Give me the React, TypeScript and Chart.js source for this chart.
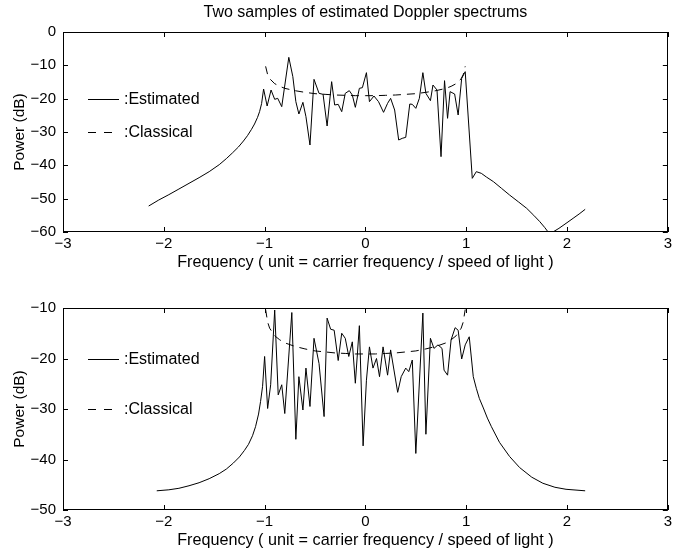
import React, { useEffect, useRef } from "react";
import { Chart, registerables } from "chart.js";

Chart.register(...registerables);

const FONT = "'Liberation Sans', Arial, Helvetica, sans-serif";

const titleText = "Two samples of estimated Doppler spectrums";
const xTitle = "Frequency ( unit = carrier frequency / speed of light )";
const yTitle = "Power (dB)";
const legendLabels = [":Estimated", ":Classical"];

// Top panel: estimated spectrum (frequency, dB)
const topEstF = [
  -2.15, -2.05, -1.95, -1.85, -1.75, -1.65, -1.55, -1.45, -1.38, -1.32, -1.26, -1.21,
  -1.17, -1.13, -1.1, -1.07, -1.05, -1.03, -1.01,
  -0.975, -0.936, -0.9, -0.87, -0.83, -0.76, -0.72, -0.69, -0.66, -0.62, -0.59,
  -0.55, -0.51, -0.46, -0.42, -0.38, -0.335, -0.305, -0.27, -0.235, -0.2, -0.16,
  -0.13, -0.1, -0.06, -0.03, 0.01, 0.04, 0.085, 0.13, 0.18, 0.22, 0.25, 0.29,
  0.33, 0.365, 0.4, 0.44, 0.465, 0.5, 0.535, 0.57, 0.6, 0.645, 0.67, 0.71, 0.75,
  0.785, 0.815, 0.84, 0.885, 0.92, 0.955, 0.99, 1.06, 1.1, 1.15, 1.2, 1.27, 1.35,
  1.43, 1.52, 1.6, 1.67, 1.73, 1.78, 1.81, 1.86, 1.92, 2.0, 2.06, 2.12, 2.18,
];
const topEstDb = [
  -52.2, -50.4, -48.8, -47.1, -45.4, -43.7, -41.9, -39.8, -38.0, -36.3, -34.5, -32.7,
  -31.1, -29.2, -27.6, -25.6, -23.9, -21.5, -17.1,
  -22.2, -17.4, -20.2, -19.9, -22.4, -7.6, -13.4, -20.9, -24.6, -21.1, -25.4,
  -33.9, -14.2, -18.4, -18.7, -28.2, -14.9, -21.9, -21.7, -23.9, -18.4, -17.6,
  -18.9, -22.6, -16.9, -16.7, -12.2, -20.9, -19.2, -20.9, -24.1, -21.4, -19.9, -23.4,
  -32.4, -31.9, -31.6, -21.6, -21.7, -22.9, -19.9, -12.2, -18.4, -20.6, -15.9, -17.4, -37.4,
  -14.6, -25.9, -17.9, -18.6, -24.9, -13.9, -11.9, -43.9, -41.9, -42.4, -43.5, -44.9, -46.9,
  -48.9, -51.0, -52.9, -55.0, -56.9, -58.7, -59.9, -60.0, -58.9, -57.2, -55.9, -54.6, -53.2,
];

// Bottom panel: estimated spectrum (frequency, dB)
const botEstF = [
  -2.07, -1.95, -1.85, -1.75, -1.65, -1.55, -1.45, -1.38, -1.31, -1.25, -1.2, -1.16,
  -1.12, -1.09, -1.06, -1.04, -1.02, -1.0,
  -0.97, -0.94, -0.9, -0.865, -0.83, -0.8, -0.73, -0.69, -0.66, -0.62, -0.59,
  -0.55, -0.51, -0.46, -0.41, -0.38, -0.345, -0.31, -0.27, -0.235, -0.2, -0.165,
  -0.13, -0.1, -0.06, -0.023, 0.01, 0.04, 0.075, 0.11, 0.14, 0.175, 0.22, 0.25,
  0.32, 0.355, 0.4, 0.43, 0.465, 0.5, 0.57, 0.6, 0.645, 0.68, 0.72, 0.76, 0.78,
  0.815, 0.85, 0.89, 0.92, 0.955, 0.99, 1.03, 1.07, 1.1, 1.13, 1.17, 1.21, 1.25,
  1.33, 1.43, 1.53, 1.65, 1.76, 1.88, 1.99, 2.18,
];
const botEstDb = [
  -46.2, -46.0, -45.7, -45.2, -44.6, -43.8, -42.8, -41.9, -40.7, -39.5, -38.2, -37.0,
  -35.3, -33.5, -31.0, -28.5, -25.5, -19.6,
  -29.9, -25.2, -10.4, -27.2, -25.2, -30.9, -10.9, -36.0, -23.6, -30.2, -21.9,
  -29.5, -16.0, -21.0, -31.5, -12.0, -14.2, -14.4, -20.4, -15.0, -16.0, -19.6,
  -16.7, -24.9, -13.5, -37.3, -24.3, -17.7, -21.9, -20.0, -23.6, -17.7, -23.3, -18.3,
  -26.7, -23.6, -21.9, -22.6, -20.3, -38.8, -11.0, -35.0, -16.0, -18.0, -17.3, -18.0, -22.3,
  -23.3, -16.3, -13.9, -14.4, -20.1, -17.3, -15.7, -23.6, -25.9, -27.9, -29.8, -31.8, -33.5,
  -36.6, -39.4, -41.6, -43.5, -44.7, -45.5, -45.9, -46.2,
];

// Classical (Jakes) spectrum
const classF = [
  -0.99, -0.97, -0.95, -0.9, -0.85, -0.8, -0.7, -0.6, -0.5, -0.4, -0.3, -0.2, -0.1, 0,
  0.1, 0.2, 0.3, 0.4, 0.5, 0.6, 0.7, 0.8, 0.85, 0.9, 0.95, 0.97, 0.99,
];
const classDb = [
  -10.3, -12.8, -14.0, -15.5, -16.3, -16.9, -17.6, -18.1, -18.5, -18.7, -18.9, -19.0, -19.1, -19.1,
  -19.1, -19.0, -18.9, -18.7, -18.5, -18.1, -17.6, -16.9, -16.3, -15.5, -14.0, -12.8, -10.3,
];

const xTicks = [-3, -2, -1, 0, 1, 2, 3];
const topYRange = [-60, 0];
const botYRange = [-50, -10];

const zip = (xs: number[], ys: number[]) => xs.map((x, i) => ({ x, y: ys[i] }));
const fmt = (v: number) => (v < 0 ? "\u2212" + Math.abs(v) : String(v));

const framePlugin = {
  id: "frame",
  afterDatasetsDraw(chart: any) {
    const { ctx, chartArea: a, scales } = chart;
    const x = scales.x;
    const y = scales.y;
    ctx.save();
    ctx.strokeStyle = "#000";
    ctx.lineWidth = 1;
    ctx.setLineDash([]);
    ctx.strokeRect(Math.round(a.left) + 0.5, Math.round(a.top) + 0.5, Math.round(a.right - a.left) - 1, Math.round(a.bottom - a.top) - 1);
    const L = 5;
    ctx.beginPath();
    x.ticks.forEach((t: any) => {
      const px = Math.round(x.getPixelForValue(t.value)) + 0.5;
      ctx.moveTo(px, a.bottom);
      ctx.lineTo(px, a.bottom - L);
      ctx.moveTo(px, a.top);
      ctx.lineTo(px, a.top + L);
    });
    y.ticks.forEach((t: any) => {
      const py = Math.round(y.getPixelForValue(t.value)) + 0.5;
      ctx.moveTo(a.left, py);
      ctx.lineTo(a.left + L, py);
      ctx.moveTo(a.right, py);
      ctx.lineTo(a.right - L, py);
    });
    ctx.stroke();

    // legend text objects
    const y1 = Math.round(y.getPixelForValue(-20)) + 0.5;
    const y2 = Math.round(y.getPixelForValue(-30)) + 0.5;
    const lx0 = a.left + 25;
    ctx.beginPath();
    ctx.moveTo(lx0, y1);
    ctx.lineTo(lx0 + 31, y1);
    ctx.stroke();
    ctx.setLineDash([8, 8]);
    ctx.beginPath();
    ctx.moveTo(lx0, y2);
    ctx.lineTo(lx0 + 24, y2);
    ctx.stroke();
    ctx.setLineDash([]);
    ctx.fillStyle = "#000";
    ctx.font = `16px ${FONT}`;
    ctx.textAlign = "left";
    ctx.textBaseline = "middle";
    ctx.fillText(legendLabels[0], a.left + 61, y1);
    ctx.fillText(legendLabels[1], a.left + 61, y2);
    ctx.restore();
  },
};

function makeConfig(est: any[], yr: number[], withTitle: boolean, padTop: number, xH: number, xPadB: number) {
  return {
    type: "line",
    data: {
      datasets: [
        {
          data: est,
          borderColor: "#000",
          borderWidth: 1,
          pointRadius: 0,
          tension: 0,
          fill: false,
        },
        {
          data: zip(classF, classDb),
          borderColor: "#000",
          borderWidth: 1,
          borderDash: [8, 6],
          pointRadius: 0,
          tension: 0,
          fill: false,
        },
      ],
    },
    options: {
      responsive: false,
      animation: false,
      layout: { padding: { left: 0, right: 4, top: padTop, bottom: 0 } },
      plugins: {
        legend: { display: false },
        tooltip: { enabled: false },
        title: {
          display: withTitle,
          text: titleText,
          color: "#000",
          fullSize: false,
          font: { size: 16, family: FONT, weight: "normal" },
          padding: { top: 3, bottom: 9.8 },
        },
      },
      scales: {
        x: {
          type: "linear",
          min: -3,
          max: 3,
          afterBuildTicks: (s: any) => {
            s.ticks = xTicks.map((v) => ({ value: v }));
          },
          afterFit: (s: any) => {
            s.height = xH;
          },
          ticks: {
            color: "#000",
            font: { size: 15, family: FONT },
            padding: 3,
            maxRotation: 0,
            autoSkip: false,
            callback: (v: any) => fmt(Number(v)),
          },
          grid: { display: false, drawTicks: false },
          border: { display: false },
          title: {
            display: true,
            text: xTitle,
            color: "#000",
            font: { size: 16.2, family: FONT },
            padding: { top: 0, bottom: xPadB },
          },
        },
        y: {
          type: "linear",
          min: yr[0],
          max: yr[1],
          ticks: {
            stepSize: 10,
            color: "#000",
            font: { size: 15, family: FONT },
            padding: 7,
            callback: (v: any) => fmt(Number(v)),
          },
          afterFit: (s: any) => {
            s.width = 63;
          },
          grid: { display: false, drawTicks: false },
          border: { display: false },
          title: {
            display: true,
            text: yTitle,
            color: "#000",
            font: { size: 15.5, family: FONT },
            padding: { top: 10.7, bottom: 0 },
          },
        },
      },
    },
    plugins: [framePlugin],
  };
}

export default function App() {
  const topRef = useRef<HTMLCanvasElement | null>(null);
  const botRef = useRef<HTMLCanvasElement | null>(null);

  useEffect(() => {
    const c1 = new Chart(topRef.current as any, makeConfig(zip(topEstF, topEstDb), topYRange, true, 0, 47, 6.4) as any);
    const c2 = new Chart(botRef.current as any, makeConfig(zip(botEstF, botEstDb), botYRange, false, 29, 48, 7.4) as any);
    return () => {
      c1.destroy();
      c2.destroy();
    };
  }, []);

  return (
    <div style={{ position: "absolute", left: 0, top: 0, width: 675, height: 558, background: "#fff" }}>
      <canvas ref={topRef} width={675} height={279} style={{ display: "block", width: 675, height: 279 }} />
      <canvas ref={botRef} width={675} height={279} style={{ display: "block", width: 675, height: 279 }} />
    </div>
  );
}
